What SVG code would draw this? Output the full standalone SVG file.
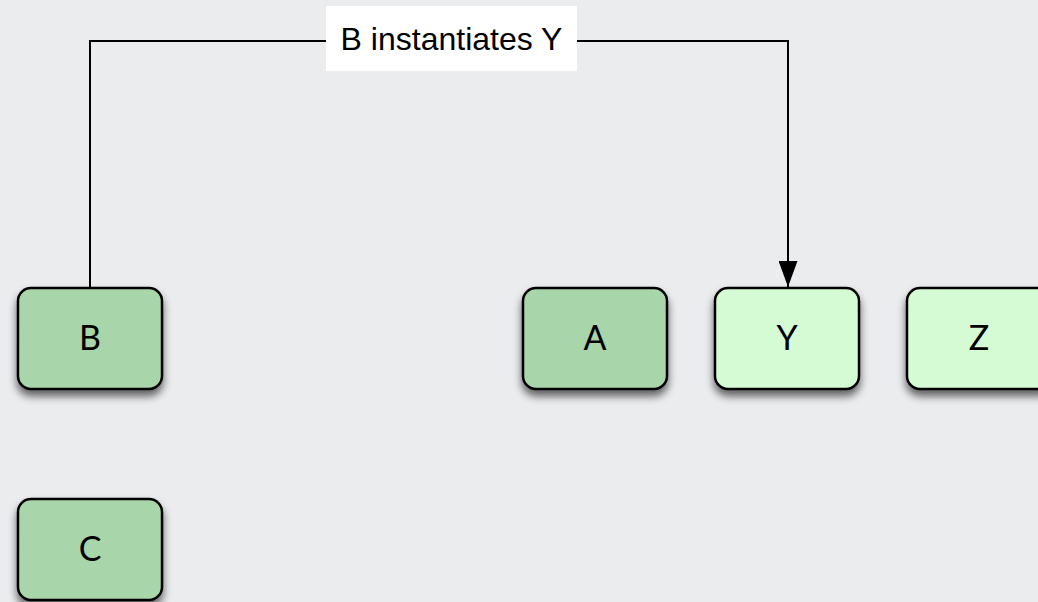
<svg xmlns="http://www.w3.org/2000/svg" width="1038" height="602" viewBox="0 0 1038 602">
<defs>
<style>
.node rect{stroke:#000;stroke-width:2.5;filter:url(#sh)}
.dark{fill:#a8d5aa}
.light{fill:#d5fbd5}
.node text{font-family:Lato,"Open Sans",sans-serif;font-size:34px;fill:#000;text-anchor:middle}
.edge{fill:none;stroke:#000;stroke-width:2}
.lbl{font-family:"Liberation Sans",Arial,sans-serif;font-size:32px;fill:#000;text-anchor:middle}
</style>
<filter id="sh" x="-20%" y="-20%" width="140%" height="150%">
<feGaussianBlur in="SourceAlpha" stdDeviation="4"/>
<feOffset dx="0" dy="6" result="b"/>
<feComponentTransfer><feFuncA type="linear" slope="0.6"/></feComponentTransfer>
<feMerge><feMergeNode/><feMergeNode in="SourceGraphic"/></feMerge>
</filter>
<marker id="arr" markerWidth="26" markerHeight="19" refX="26" refY="9.5" orient="auto" markerUnits="userSpaceOnUse" viewBox="0 0 26 19">
<path d="M0,0 L26,9.5 L0,19 Z" fill="#000"/>
</marker>
</defs>
<rect width="1038" height="602" fill="#ebecee"/>
<g id="connectors">
<path class="edge" d="M90,288 V41 H788 V287" marker-end="url(#arr)"/>
<rect x="326" y="6" width="251" height="65" fill="#fff"/>
<text class="lbl" x="451.5" y="50">B instantiates Y</text>
</g>
<g id="node-B" class="node"><rect class="dark" x="18" y="288" width="144" height="101" rx="13"/><text x="90" y="350">B</text></g>
<g id="node-C" class="node"><rect class="dark" x="18" y="499" width="144" height="101" rx="13"/><text x="90" y="561">C</text></g>
<g id="node-A" class="node"><rect class="dark" x="523" y="288" width="144" height="101" rx="13"/><text x="595" y="350">A</text></g>
<g id="node-Y" class="node"><rect class="light" x="715" y="288" width="144" height="101" rx="13"/><text x="787" y="350">Y</text></g>
<g id="node-Z" class="node"><rect class="light" x="907" y="288" width="144" height="101" rx="13"/><text x="979" y="350">Z</text></g>
</svg>
